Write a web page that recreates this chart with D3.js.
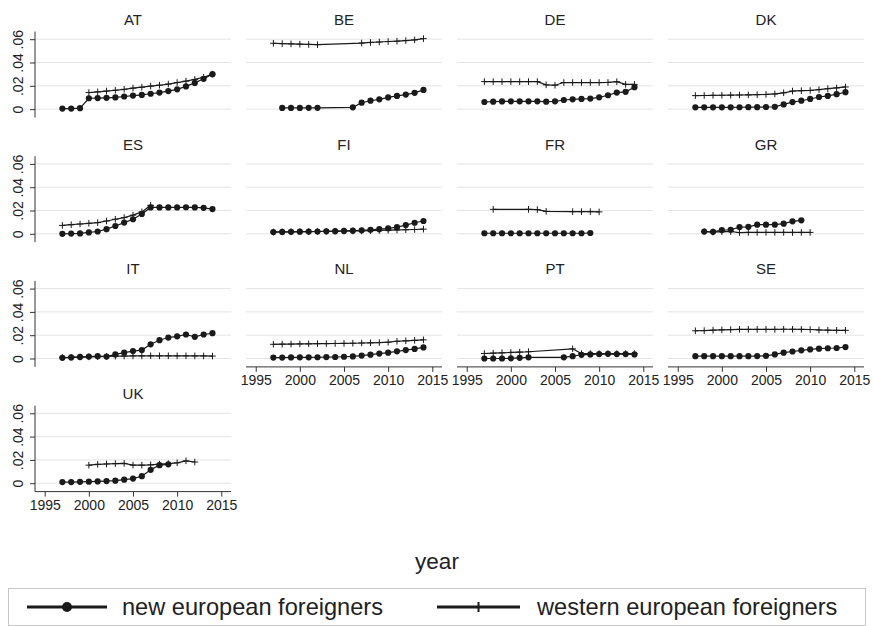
<!DOCTYPE html>
<html>
<head>
<meta charset="utf-8">
<script src="https://cdn.jsdelivr.net/npm/d3@7"></script>
<style>
  body { margin: 0; background: #fff; }
  svg { display: block; font-family: "Liberation Sans", Arial, sans-serif; }
</style>
</head>
<body>
<svg id="chart" width="873" height="626"></svg>
<script>
// Share of foreign workers by origin group, 1997-2014, one panel per country
const years = [1997, 1998, 1999, 2000, 2001, 2002, 2003, 2004, 2005, 2006, 2007, 2008, 2009, 2010, 2011, 2012, 2013, 2014];
const countries = ["AT", "BE", "DE", "DK", "ES", "FI", "FR", "GR", "IT", "NL", "PT", "SE", "UK"];
const xTicks = [1995, 2000, 2005, 2010, 2015];
const yTicks = [0, 0.02, 0.04, 0.06];
const yTickLabels = ["0", ".02", ".04", ".06"];
const seriesNames = ["new european foreigners", "western european foreigners"];

// values by year (null = no observation)
const newAT = [0.0005, 0.0005, 0.0008, 0.0093, 0.0095, 0.0097, 0.0100, 0.0108, 0.0116, 0.0122, 0.0132, 0.0142, 0.0155, 0.0170, 0.0195, 0.0225, 0.0260, 0.0300];
const westAT = [null, null, null, 0.0142, 0.0148, 0.0155, 0.0162, 0.0170, 0.0180, 0.0188, 0.0197, 0.0205, 0.0215, 0.0228, 0.0240, 0.0255, 0.0273, 0.0300];
const newBE = [null, 0.0010, 0.0010, 0.0010, 0.0011, 0.0011, null, null, null, 0.0015, 0.0055, 0.0072, 0.0084, 0.0100, 0.0113, 0.0125, 0.0140, 0.0165];
const westBE = [0.0565, 0.0562, 0.0560, 0.0557, 0.0555, 0.0553, null, null, null, null, 0.0567, 0.0572, 0.0576, 0.0580, 0.0583, 0.0588, 0.0594, 0.0605];
const newDE = [0.0061, 0.0064, 0.0066, 0.0067, 0.0067, 0.0067, 0.0067, 0.0064, 0.0067, 0.0078, 0.0084, 0.0087, 0.0090, 0.0101, 0.0119, 0.0142, 0.0148, 0.0188];
const westDE = [0.0236, 0.0236, 0.0236, 0.0236, 0.0236, 0.0236, 0.0236, 0.0208, 0.0205, 0.0228, 0.0228, 0.0228, 0.0228, 0.0228, 0.0229, 0.0235, 0.0212, 0.0212];
const newDK = [0.0015, 0.0015, 0.0015, 0.0015, 0.0015, 0.0016, 0.0017, 0.0017, 0.0018, 0.0020, 0.0040, 0.0060, 0.0072, 0.0087, 0.0104, 0.0113, 0.0128, 0.0145];
const westDK = [0.0116, 0.0117, 0.0118, 0.0119, 0.0120, 0.0121, 0.0122, 0.0124, 0.0126, 0.0130, 0.0140, 0.0155, 0.0158, 0.0160, 0.0167, 0.0175, 0.0182, 0.0190];
const newES = [0.0000, 0.0002, 0.0003, 0.0012, 0.0020, 0.0040, 0.0067, 0.0096, 0.0125, 0.0170, 0.0226, 0.0226, 0.0226, 0.0226, 0.0228, 0.0226, 0.0223, 0.0212];
const westES = [0.0072, 0.0078, 0.0084, 0.0090, 0.0096, 0.0110, 0.0125, 0.0139, 0.0160, 0.0188, 0.0245, null, null, null, null, null, null, null];
const newFI = [0.0015, 0.0016, 0.0017, 0.0018, 0.0019, 0.0020, 0.0021, 0.0023, 0.0025, 0.0027, 0.0030, 0.0035, 0.0040, 0.0047, 0.0057, 0.0075, 0.0095, 0.0110];
const westFI = [0.0015, 0.0016, 0.0017, 0.0018, 0.0019, 0.0020, 0.0021, 0.0022, 0.0023, 0.0024, 0.0025, 0.0027, 0.0029, 0.0031, 0.0033, 0.0035, 0.0037, 0.0040];
const newFR = [0.0005, 0.0005, 0.0005, 0.0005, 0.0005, 0.0005, 0.0005, 0.0005, 0.0005, 0.0005, 0.0005, 0.0005, 0.0007, null, null, null, null, null];
const westFR = [null, 0.0210, null, null, null, 0.0210, 0.0208, 0.0193, null, null, 0.0190, 0.0190, 0.0190, 0.0188, null, null, null, null];
const newGR = [null, 0.0020, 0.0017, 0.0032, 0.0035, 0.0058, 0.0060, 0.0078, 0.0078, 0.0078, 0.0087, 0.0107, 0.0116, null, null, null, null, null];
const westGR = [null, 0.0018, 0.0015, 0.0018, 0.0020, 0.0011, 0.0012, 0.0012, 0.0012, 0.0012, 0.0012, 0.0012, 0.0012, 0.0012, null, null, null, null];
const newIT = [0.0006, 0.0009, 0.0014, 0.0017, 0.0020, 0.0017, 0.0035, 0.0050, 0.0064, 0.0072, 0.0122, 0.0157, 0.0180, 0.0190, 0.0206, 0.0186, 0.0206, 0.0217];
const westIT = [0.0008, 0.0010, 0.0012, 0.0014, 0.0016, 0.0018, 0.0020, 0.0021, 0.0022, 0.0022, 0.0023, 0.0023, 0.0023, 0.0023, 0.0023, 0.0022, 0.0022, 0.0021];
const newNL = [0.0008, 0.0008, 0.0009, 0.0010, 0.0010, 0.0011, 0.0012, 0.0013, 0.0015, 0.0018, 0.0025, 0.0033, 0.0042, 0.0050, 0.0062, 0.0072, 0.0082, 0.0095];
const westNL = [0.0122, 0.0123, 0.0124, 0.0125, 0.0126, 0.0127, 0.0128, 0.0129, 0.0130, 0.0131, 0.0133, 0.0135, 0.0137, 0.0140, 0.0148, 0.0152, 0.0156, 0.0160];
const newPT = [0.0000, 0.0000, 0.0000, 0.0002, 0.0006, 0.0010, null, null, null, 0.0010, 0.0020, 0.0032, 0.0035, 0.0038, 0.0040, 0.0038, 0.0038, 0.0035];
const westPT = [0.0043, 0.0046, 0.0049, 0.0052, 0.0055, 0.0058, null, null, null, null, 0.0083, 0.0042, 0.0042, 0.0042, 0.0042, 0.0042, 0.0042, 0.0042];
const newSE = [0.0020, 0.0020, 0.0020, 0.0020, 0.0020, 0.0020, 0.0020, 0.0021, 0.0023, 0.0035, 0.0050, 0.0060, 0.0070, 0.0078, 0.0084, 0.0088, 0.0090, 0.0098];
const westSE = [0.0238, 0.0240, 0.0243, 0.0246, 0.0248, 0.0250, 0.0250, 0.0250, 0.0250, 0.0250, 0.0251, 0.0251, 0.0250, 0.0249, 0.0245, 0.0243, 0.0242, 0.0242];
const newUK = [0.0010, 0.0010, 0.0012, 0.0013, 0.0015, 0.0018, 0.0022, 0.0030, 0.0040, 0.0060, 0.0115, 0.0155, 0.0162, null, null, null, null, null];
const westUK = [null, null, null, 0.0155, 0.0162, 0.0165, 0.0168, 0.0170, 0.0155, 0.0155, 0.0158, 0.0163, 0.0168, 0.0175, 0.0192, 0.0182, null, null];

const newSeries = [newAT, newBE, newDE, newDK, newES, newFI, newFR, newGR, newIT, newNL, newPT, newSE, newUK];
const westSeries = [westAT, westBE, westDE, westDK, westES, westFI, westFR, westGR, westIT, westNL, westPT, westSE, westUK];

// layout of the 4-column grid
const nCols = 4;
const panelW = 196, plotH = 86;
const left0 = 35, colStep = 211, top0 = 31.5, rowStep = 124.7;
const ink = "#1a1a1a", textCol = "#222", gridCol = "#e4e4e4";

const svg = d3.select("#chart");
svg.append("rect").attr("width", 873).attr("height", 626).attr("fill", "#fff");

const x = d3.scaleLinear().domain([1993.9, 2016.1]).range([0, panelW]);
const y = d3.scaleLinear().domain([-0.0072, 0.0666]).range([plotH, 0]);

const toPoints = vals => years.map((yr, i) => ({ yr, v: vals[i] })).filter(d => d.v !== null);
const line = d3.line().x(d => x(d.yr)).y(d => y(d.v));

// bottom-most panel in each column carries the year axis
const lastRowOfCol = c => {
  let r = 0;
  countries.forEach((_, i) => { if (i % nCols === c) r = Math.floor(i / nCols); });
  return r;
};

countries.forEach((code, i) => {
  const col = i % nCols, row = Math.floor(i / nCols);
  const g = svg.append("g")
    .attr("transform", `translate(${left0 + col * colStep},${top0 + row * rowStep})`);

  // horizontal gridlines
  g.selectAll("line.grid").data(yTicks).join("line")
    .attr("class", "grid")
    .attr("x1", 0).attr("x2", panelW)
    .attr("y1", d => y(d)).attr("y2", d => y(d))
    .attr("stroke", gridCol).attr("stroke-width", 1);

  // panel title
  g.append("text")
    .attr("x", panelW / 2).attr("y", -6.5)
    .attr("text-anchor", "middle")
    .attr("font-size", 15).attr("fill", textCol)
    .text(code);

  // y axis on the first column
  if (col === 0) {
    const ya = g.append("g").call(d3.axisLeft(y).tickValues(yTicks).tickSize(5).tickFormat((d, k) => yTickLabels[k]));
    ya.select(".domain").attr("stroke", "#333").attr("d", `M0,${plotH}V0`);
    ya.selectAll(".tick line").attr("stroke", "#333");
    ya.selectAll(".tick text")
      .attr("x", 0).attr("y", 0).attr("dy", 0)
      .attr("transform", "translate(-12.5,0) rotate(-90)")
      .attr("text-anchor", "middle")
      .attr("font-size", 14).attr("fill", textCol)
      .attr("font-family", "Liberation Sans, Arial, sans-serif");
  }

  // x axis on the last panel of each column
  if (row === lastRowOfCol(col)) {
    const xa = g.append("g").attr("transform", `translate(0,${plotH})`)
      .call(d3.axisBottom(x).tickValues(xTicks).tickSize(5).tickPadding(3).tickFormat(d3.format("d")));
    xa.select(".domain").attr("stroke", "#333").attr("d", `M0,0H${panelW}`);
    xa.selectAll(".tick line").attr("stroke", "#333");
    xa.selectAll(".tick text").attr("font-size", 14).attr("fill", textCol)
      .attr("font-family", "Liberation Sans, Arial, sans-serif");
  }

  // new european foreigners: connected filled circles
  const np = toPoints(newSeries[i]);
  g.append("path").datum(np).attr("d", line)
    .attr("fill", "none").attr("stroke", ink).attr("stroke-width", 1.2);
  g.selectAll("circle.nw").data(np).join("circle")
    .attr("class", "nw")
    .attr("cx", d => x(d.yr)).attr("cy", d => y(d.v)).attr("r", 3.1)
    .attr("fill", ink);

  // western european foreigners: connected plus markers
  const wp = toPoints(westSeries[i]);
  g.append("path").datum(wp).attr("d", line)
    .attr("fill", "none").attr("stroke", ink).attr("stroke-width", 1.2);
  g.selectAll("path.we").data(wp).join("path")
    .attr("class", "we")
    .attr("d", d => {
      const cx = x(d.yr), cy = y(d.v), s = 3.3;
      return `M${cx - s},${cy}H${cx + s}M${cx},${cy - s}V${cy + s}`;
    })
    .attr("stroke", ink).attr("stroke-width", 1);
});

// common x title
svg.append("text")
  .attr("x", 437).attr("y", 569)
  .attr("text-anchor", "middle")
  .attr("font-size", 22.5).attr("fill", textCol)
  .text("year");

// legend
const lg = svg.append("g");
lg.append("rect")
  .attr("x", 8.5).attr("y", 588.5).attr("width", 857).attr("height", 37)
  .attr("fill", "#fff").attr("stroke", "#c8c8c8");

const legendItems = [
  { name: seriesNames[0], x0: 27, x1: 107, tx: 122, marker: "circle" },
  { name: seriesNames[1], x0: 437, x1: 520, tx: 537, marker: "plus" }
];
const ly = 607;
legendItems.forEach(it => {
  lg.append("line")
    .attr("x1", it.x0).attr("x2", it.x1).attr("y1", ly).attr("y2", ly)
    .attr("stroke", ink).attr("stroke-width", 3);
  const mx = (it.x0 + it.x1) / 2;
  if (it.marker === "circle") {
    lg.append("circle").attr("cx", mx).attr("cy", ly).attr("r", 5).attr("fill", ink);
  } else {
    lg.append("path")
      .attr("d", `M${mx},${ly - 5}V${ly + 5}`)
      .attr("stroke", ink).attr("stroke-width", 2);
  }
  lg.append("text")
    .attr("x", it.tx).attr("y", ly + 8)
    .attr("font-size", 23.6).attr("fill", textCol)
    .text(it.name);
});
</script>
</body>
</html>
